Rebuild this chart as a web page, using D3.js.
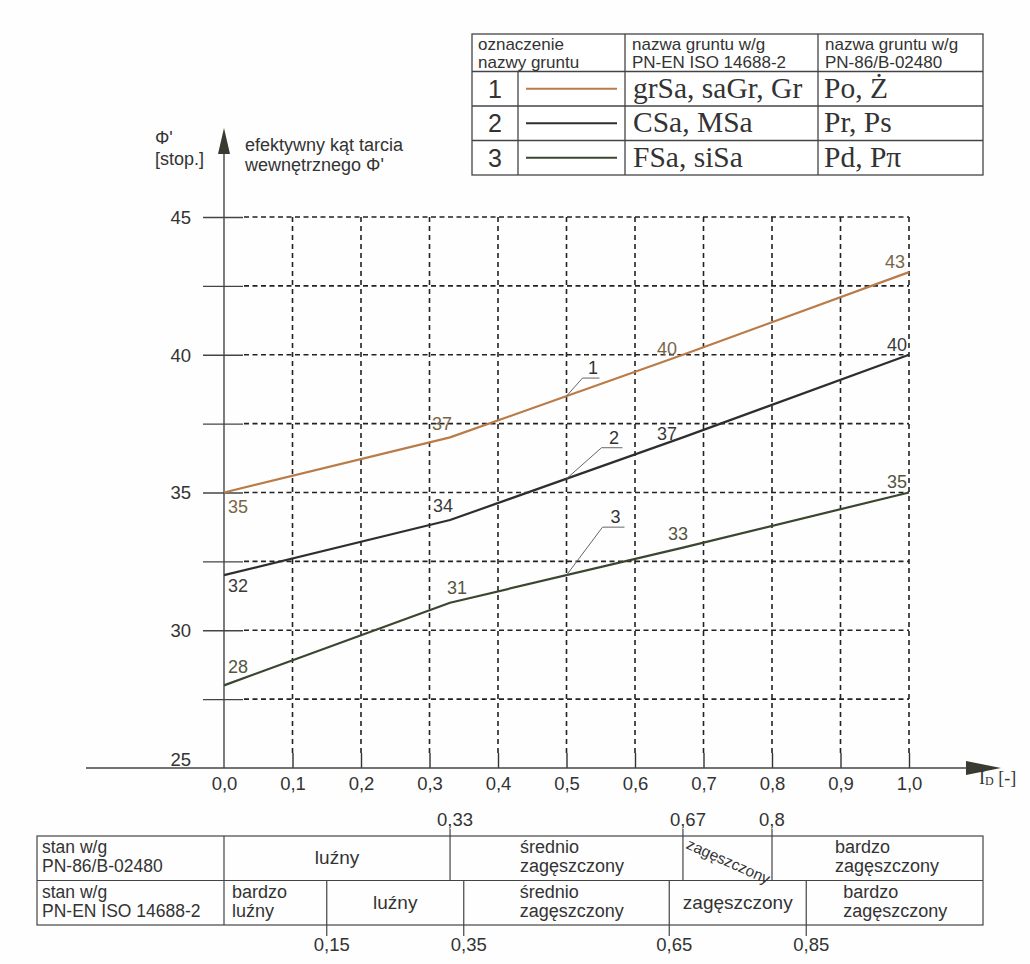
<!DOCTYPE html>
<html><head><meta charset="utf-8">
<script src="https://cdn.jsdelivr.net/npm/d3@7/dist/d3.min.js"></script>
<style>body{margin:0;background:#fff}svg{display:block}</style>
</head><body><svg id="c" width="1030" height="964"></svg>
<script>
// ---------- DATA ----------
const idValues = [0, 0.33, 0.67, 1.0];
const series1 = [35, 37, 40, 43];
const series2 = [32, 34, 37, 40];
const series3 = [28, 31, 33, 35];
const seriesKeys = ["1", "2", "3"];
const xTicks = [0.0, 0.1, 0.2, 0.3, 0.4, 0.5, 0.6, 0.7, 0.8, 0.9, 1.0];
const xTickLabels = ["0,0","0,1","0,2","0,3","0,4","0,5","0,6","0,7","0,8","0,9","1,0"];
const yGrid = [27.5, 30, 32.5, 35, 37.5, 40, 42.5, 45];
const yTicks = [25, 30, 35, 40, 45];
const legendHeaders = [["oznaczenie","nazwy gruntu"],["nazwa gruntu w/g","PN-EN ISO 14688-2"],["nazwa gruntu w/g","PN-86/B-02480"]];
const legendNumbers = ["1","2","3"];
const legendISO = ["grSa, saGr, Gr","CSa, MSa","FSa, siSa"];
const legendPN = ["Po, Ż","Pr, Ps","Pd, Pπ"];
const stateRowTitles = [["stan w/g","PN-86/B-02480"],["stan w/g","PN-EN ISO 14688-2"]];
const statePNBounds = [0.33, 0.67, 0.8];
const statePNBoundLabels = ["0,33","0,67","0,8"];
const statePNNames = [["luźny"],["średnio","zagęszczony"],["zagęszczony"],["bardzo","zagęszczony"]];
const stateISOBounds = [0.15, 0.35, 0.65, 0.85];
const stateISOBoundLabels = ["0,15","0,35","0,65","0,85"];
const stateISONames = [["bardzo","luźny"],["luźny"],["średnio","zagęszczony"],["zagęszczony"],["bardzo","zagęszczony"]];

// ---------- LAYOUT / STYLE ----------
const SANS = "'Liberation Sans', Arial, sans-serif";
const SERIF = "'Liberation Serif', 'Times New Roman', serif";
const INK = "#333";
const seriesColors = ["#b97c48", "#2e2e2e", "#3a4630"];
const labelColors = ["#7a6448", "#3a3a3a", "#55553e"];
const labelOffsets = [
  [[4,20],[-18,-7],[-26,0],[-24,-4]],
  [[4,17],[-17,-8],[-26,3],[-22,-4]],
  [[4,-12],[-3,-9],[-15,-8],[-22,-5]]
];
const leaderShapes = [[16,-18,17],[35,-31,21],[36,-48,22]];

const svg = d3.select("#c");
svg.append("rect").attr("width",1030).attr("height",964).attr("fill","#fefefe");

const x = d3.scaleLinear().domain([0, 1]).range([224, 909]);
const y = d3.scaleLinear().domain([25, 45]).range([768, 217]);

// grid
const g = svg.append("g");
g.selectAll(".hg").data(yGrid).join("line")
  .attr("x1", 244).attr("x2", x(1)).attr("y1", d => y(d)).attr("y2", d => y(d))
  .attr("stroke", "#222").attr("stroke-width", 1.6).attr("stroke-dasharray", "5,3.5");
g.selectAll(".vg").data(xTicks.filter(d => d > 0)).join("line")
  .attr("x1", d => x(d)).attr("x2", d => x(d)).attr("y1", y(45)).attr("y2", 753)
  .attr("stroke", "#222").attr("stroke-width", 1.6).attr("stroke-dasharray", "5,4");

// y solid ticks
const yTickAxis = d3.axisLeft(y).tickValues(yGrid).tickSize(40).tickFormat("");
const ya = svg.append("g").attr("transform", "translate(243,0)").call(yTickAxis);
ya.select(".domain").remove();
ya.selectAll(".tick line").attr("stroke", "#444").attr("stroke-width", 1.3);

// y labels
const yLabAxis = d3.axisLeft(y).tickValues(yTicks).tickSize(0).tickPadding(0).tickFormat(d3.format("d"));
const yl = svg.append("g").attr("transform", "translate(191,0)").call(yLabAxis);
yl.select(".domain").remove();
yl.selectAll(".tick text").attr("font-family", SANS).attr("font-size", 18.5).attr("fill", INK)
  .attr("dy", d => d === 25 ? "-0.12em" : "0.35em");

// x axis
const xAxis = d3.axisBottom(x).tickValues(xTicks).tickSize(-15).tickPadding(22)
  .tickFormat((d, i) => xTickLabels[i]);
const xa = svg.append("g").attr("transform", "translate(0,768)").call(xAxis);
xa.select(".domain").remove();
xa.selectAll(".tick line").attr("stroke", "#333").attr("stroke-width", 1.4)
  .attr("opacity", d => d === 0 ? 0 : 1);
xa.selectAll(".tick text").attr("font-family", SANS).attr("font-size", 18.5).attr("fill", INK).attr("dy", "0");

// axis lines & arrows
svg.append("line").attr("x1", 86).attr("x2", 968).attr("y1", 768).attr("y2", 768)
  .attr("stroke", "#444").attr("stroke-width", 1.4);
svg.append("path").attr("d", "M966,761 L1001,768 L966,775 Z").attr("fill", "#3a3a30");
svg.append("line").attr("x1", 224).attr("x2", 224).attr("y1", 150).attr("y2", 768)
  .attr("stroke", "#444").attr("stroke-width", 1.4);
svg.append("path").attr("d", "M218,154 L224,128 L230,154 Z").attr("fill", "#3a3a30");

// axis titles
const tt = svg.append("g").attr("font-family", SANS).attr("font-size", 18).attr("fill", INK);
tt.append("text").attr("x", 155).attr("y", 144).text("Φ'");
tt.append("text").attr("x", 155).attr("y", 165).text("[stop.]");
tt.append("text").attr("x", 245).attr("y", 151).text("efektywny kąt tarcia");
tt.append("text").attr("x", 245).attr("y", 171).text("wewnętrznego Φ'");
const idl = svg.append("text").attr("x", 979).attr("y", 784).attr("font-family", SERIF)
  .attr("font-size", 18).attr("fill", INK);
idl.append("tspan").text("I");
idl.append("tspan").attr("font-size", 12).attr("dy", 1).text("D");
idl.append("tspan").attr("dy", -1).text(" [-]");

// curves
const allSeries = [series1, series2, series3];
const line = d3.line().x((d, i) => x(idValues[i])).y(d => y(d));
allSeries.forEach((s, si) => {
  svg.append("path").datum(s).attr("d", line).attr("fill", "none")
    .attr("stroke", seriesColors[si]).attr("stroke-width", 2.2).attr("stroke-linejoin", "round");
  svg.selectAll(null).data(s).join("text")
    .attr("x", (d, i) => x(idValues[i]) + labelOffsets[si][i][0])
    .attr("y", (d, i) => y(d) + labelOffsets[si][i][1])
    .attr("font-family", SANS).attr("font-size", 18).attr("fill", labelColors[si])
    .text(d => d);
  const vAt = d3.scaleLinear().domain(idValues).range(s)(0.5);
  const px = x(0.5), py = y(vAt);
  const [dx1, dy1, hl] = leaderShapes[si];
  svg.append("path").attr("d", `M${px},${py} L${px+dx1},${py+dy1} L${px+dx1+hl},${py+dy1}`)
    .attr("fill", "none").attr("stroke", "#666").attr("stroke-width", 1);
  svg.append("text").attr("x", px + dx1 + hl/2 + 2).attr("y", py + dy1 - 4)
    .attr("text-anchor", "middle").attr("font-family", SANS).attr("font-size", 18).attr("fill", INK)
    .text(seriesKeys[si]);
});

// ---------- LEGEND TABLE ----------
const LT = {left: 472, right: 983, cols: [518, 625, 818], rows: [34, 71.5, 106, 140.5, 175]};
const lg = svg.append("g");
lg.append("rect").attr("x", LT.left).attr("y", LT.rows[0]).attr("width", LT.right - LT.left)
  .attr("height", LT.rows[4] - LT.rows[0]).attr("fill", "#fff").attr("stroke", "#444").attr("stroke-width", 1.3);
LT.rows.slice(1, 4).forEach(r => lg.append("line").attr("x1", LT.left).attr("x2", LT.right)
  .attr("y1", r).attr("y2", r).attr("stroke", "#444").attr("stroke-width", 1.3));
lg.append("line").attr("x1", LT.cols[0]).attr("x2", LT.cols[0]).attr("y1", LT.rows[1]).attr("y2", LT.rows[4])
  .attr("stroke", "#444").attr("stroke-width", 1.3);
LT.cols.slice(1).forEach(c => lg.append("line").attr("x1", c).attr("x2", c).attr("y1", LT.rows[0]).attr("y2", LT.rows[4])
  .attr("stroke", "#444").attr("stroke-width", 1.3));
const hx = [478, 632, 825];
legendHeaders.forEach((h, i) => {
  const t = lg.append("text").attr("font-family", SANS).attr("font-size", 17).attr("fill", INK);
  t.append("tspan").attr("x", hx[i]).attr("y", 50).text(h[0]);
  t.append("tspan").attr("x", hx[i]).attr("y", 68).text(h[1]);
});
legendNumbers.forEach((n, i) => {
  const cy = (LT.rows[i + 1] + LT.rows[i + 2]) / 2;
  lg.append("text").attr("x", 495).attr("y", cy + 9).attr("text-anchor", "middle")
    .attr("font-family", SANS).attr("font-size", 25).attr("fill", INK).text(n);
  lg.append("line").attr("x1", 526).attr("x2", 617).attr("y1", cy).attr("y2", cy)
    .attr("stroke", seriesColors[i]).attr("stroke-width", 2.2);
  lg.append("text").attr("x", 633).attr("y", cy + 9).attr("font-family", SERIF)
    .attr("font-size", 29.5).attr("fill", INK).text(legendISO[i]);
  lg.append("text").attr("x", 824).attr("y", cy + 9).attr("font-family", SERIF)
    .attr("font-size", 29.5).attr("fill", INK).text(legendPN[i]);
});

// ---------- STATE TABLE ----------
const ST = {left: 37, right: 983, top: 836, mid: 880.5, bottom: 925};
const sg = svg.append("g").attr("font-family", SANS).attr("fill", INK);
const stroke = (sel) => sel.attr("stroke", "#444").attr("stroke-width", 1.2);
sg.append("rect").attr("x", ST.left).attr("y", ST.top).attr("width", ST.right - ST.left)
  .attr("height", ST.bottom - ST.top).attr("fill", "none").call(stroke);
sg.append("line").attr("x1", ST.left).attr("x2", ST.right).attr("y1", ST.mid).attr("y2", ST.mid).call(stroke);
sg.append("line").attr("x1", x(0)).attr("x2", x(0)).attr("y1", ST.top).attr("y2", ST.bottom).call(stroke);
stateRowTitles.forEach((t, i) => {
  const top = i === 0 ? ST.top : ST.mid;
  const tx = sg.append("text").attr("font-size", 17.5);
  tx.append("tspan").attr("x", 42).attr("y", top + 17).text(t[0]);
  tx.append("tspan").attr("x", 42).attr("y", top + 36).text(t[1]);
});
statePNBounds.forEach((b, i) => {
  sg.append("line").attr("x1", x(b)).attr("x2", x(b)).attr("y1", 829).attr("y2", ST.mid).call(stroke);
  sg.append("text").attr("x", x(b) - 13).attr("y", 826).attr("font-size", 18.5).text(statePNBoundLabels[i]);
});
stateISOBounds.forEach((b, i) => {
  sg.append("line").attr("x1", x(b)).attr("x2", x(b)).attr("y1", ST.mid).attr("y2", 936).call(stroke);
  sg.append("text").attr("x", x(b) - 13).attr("y", 951).attr("font-size", 18.5).text(stateISOBoundLabels[i]);
});
const pnEdges = [x(0), ...statePNBounds.map(x), ST.right];
const isoEdges = [x(0), ...stateISOBounds.map(x), ST.right];
const pnPad = [null, 70, "rot", 63];
const isoPad = [8, null, 56, null, 37];
function cellText(names, edges, pads, top, bottom) {
  names.forEach((n, i) => {
    const l = edges[i], r = edges[i + 1], cy = (top + bottom) / 2;
    if (pads[i] === "rot") {
      sg.append("text").attr("transform", `translate(${(l + r) / 2 + 1},${cy + 3}) rotate(24)`)
        .attr("text-anchor", "middle").attr("font-size", 15.5).attr("dy", "0.35em").text(n[0]);
    } else if (n.length === 1) {
      sg.append("text").attr("x", (l + r) / 2).attr("y", cy + 6).attr("text-anchor", "middle")
        .attr("font-size", 19).text(n[0]);
    } else {
      const t = sg.append("text").attr("font-size", 18);
      t.append("tspan").attr("x", l + pads[i]).attr("y", top + 17).text(n[0]);
      t.append("tspan").attr("x", l + pads[i]).attr("y", top + 36).text(n[1]);
    }
  });
}
cellText(statePNNames, pnEdges, pnPad, ST.top, ST.mid);
cellText(stateISONames, isoEdges, isoPad, ST.mid, ST.bottom);
</script></body></html>
